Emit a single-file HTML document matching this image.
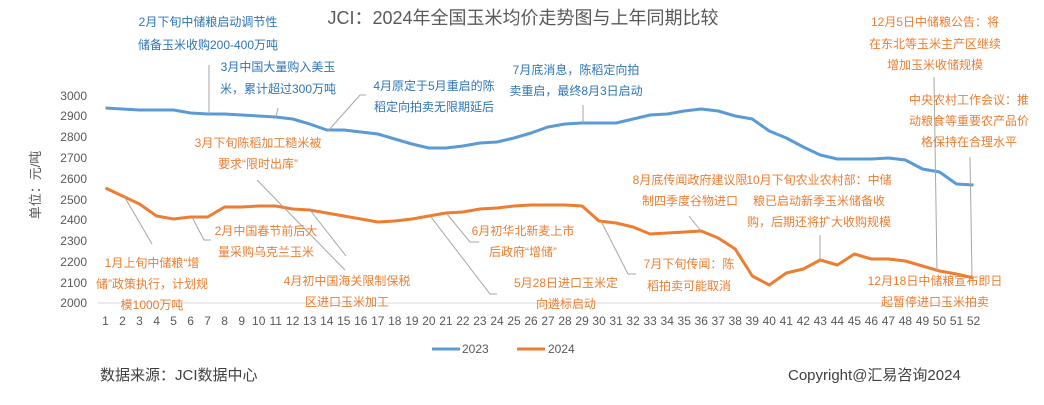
<!DOCTYPE html>
<html><head><meta charset="utf-8"><style>
body{margin:0;background:#fff}
svg text{font-family:"Liberation Sans","Noto Sans CJK SC",sans-serif}
.o{fill:#ED7D31;font-size:12px;text-anchor:middle}
.b{fill:#2E75B6;font-size:12px;text-anchor:middle}
.t{fill:#595959;font-size:12px}
.l{stroke:#A6A6A6;stroke-width:1;fill:none}
</style></head><body>
<svg width="1044" height="400" xmlns="http://www.w3.org/2000/svg">
<rect width="1044" height="400" fill="#fff"/>
<text x="523" y="24" style="font-size:18px;fill:#595959;text-anchor:middle">JCI：2024年全国玉米均价走势图与上年同期比较</text>
<text transform="translate(40,185) rotate(-90)" style="font-size:13px;fill:#595959;text-anchor:middle">单位：元/吨</text>
<g class="t" text-anchor="end">
<text x="87" y="100">3000</text><text x="87" y="120">2900</text><text x="87" y="141">2800</text><text x="87" y="162">2700</text><text x="87" y="183">2600</text><text x="87" y="204">2500</text><text x="87" y="224">2400</text><text x="87" y="245">2300</text><text x="87" y="266">2200</text><text x="87" y="287">2100</text><text x="87" y="307">2000</text>
</g>
<line x1="98" y1="303" x2="983" y2="303" stroke="#D9D9D9"/>
<g id="xt" class="t" text-anchor="middle"></g>
<polyline id="p23" fill="none" stroke="#5B9BD5" stroke-width="3" stroke-linejoin="round"/>
<polyline id="p24" fill="none" stroke="#ED7D31" stroke-width="3" stroke-linejoin="round"/>
<path class="l" d="M209 65V114 M278 108L276 117 M360 95L328 131 M360 95H366 M583 105V123 M934 77L937 271 M970 157L972 278 M257 180L345 270 M689 216L701 231 M820 235V260 M124 196L152 244 M192 217L204 240H211 M310 210L346 256 M447 214L470 242H479 M431 217L490 294H497 M601 221L628 274H636"/>
<g class="b">
<text x="208" y="26">2月下旬中储粮启动调节性</text><text x="208" y="49">储备玉米收购200-400万吨</text>
<text x="278" y="71">3月中国大量购入美玉</text><text x="278" y="93">米，累计超过300万吨</text>
<text x="434" y="90">4月原定于5月重启的陈</text><text x="434" y="111">稻定向拍卖无限期延后</text>
<text x="576" y="74">7月底消息，陈稻定向拍</text><text x="576" y="95">卖重启，最终8月3日启动</text>
</g>
<g class="o">
<text x="935" y="26">12月5日中储粮公告：将</text><text x="935" y="48">在东北等玉米主产区继续</text><text x="935" y="69">增加玉米收储规模</text>
<text x="969" y="104">中央农村工作会议：推</text><text x="969" y="125">动粮食等重要农产品价</text><text x="969" y="146">格保持在合理水平</text>
<text x="258" y="147">3月下旬陈稻加工糙米被</text><text x="258" y="168">要求“限时出库”</text>
<text x="690" y="184">8月底传闻政府建议限</text><text x="690" y="205">制四季度谷物进口</text>
<text x="819" y="184">10月下旬农业农村部：中储</text><text x="819" y="205">粮已启动新季玉米储备收</text><text x="819" y="226">购，后期还将扩大收购规模</text>
<text x="152" y="267">1月上旬中储粮“增</text><text x="152" y="288">储”政策执行，计划规</text><text x="152" y="309">模1000万吨</text>
<text x="266" y="235">2月中国春节前后大</text><text x="266" y="256">量采购乌克兰玉米</text>
<text x="347" y="285">4月初中国海关限制保税</text><text x="347" y="306">区进口玉米加工</text>
<text x="523" y="235">6月初华北新麦上市</text><text x="523" y="256">后政府“增储”</text>
<text x="566" y="287">5月28日进口玉米定</text><text x="566" y="308">向遴标启动</text>
<text x="689" y="268">7月下旬传闻：陈</text><text x="689" y="290">稻拍卖可能取消</text>
<text x="935" y="285">12月18日中储粮宣布即日</text><text x="935" y="306">起暂停进口玉米拍卖</text>
</g>
<line x1="432" y1="349" x2="460" y2="349" stroke="#5B9BD5" stroke-width="3"/>
<text x="462" y="353" class="t">2023</text>
<line x1="517" y1="349" x2="545" y2="349" stroke="#ED7D31" stroke-width="3"/>
<text x="548" y="353" class="t">2024</text>
<text x="100" y="380" style="font-size:15px;fill:#404040">数据来源：JCI数据中心</text>
<text x="788" y="380" style="font-size:15px;fill:#404040">Copyright@汇易咨询2024</text>
</svg>
<script>
var b=[108,109,110,110,110,113,114,114,115,116,117,119,124,130,130,132,134,139,144,148,148,146,143,142,138,133,127,124,123,123,123,119,115,114,111,109,111,116,119,131,138,147,155,159,159,159,158,160,169,172,184,185];
var o=[188,196,204,216,219,217,217,207,207,206,206,209,210,213,216,219,222,221,219,216,213,212,209,208,206,205,205,205,206,221,223,227,234,233,232,231,238,249,276,285,273,269,260,265,254,259,259,261,266,271,274,278];
function X(i){return 105.5+i*17.02}
function pts(a){return a.map(function(y,i){return X(i).toFixed(1)+","+y}).join(" ")}
document.getElementById("p23").setAttribute("points",pts(b));
document.getElementById("p24").setAttribute("points",pts(o));
var g=document.getElementById("xt"),s="";
for(var i=0;i<52;i++)s+='<text x="'+X(i).toFixed(1)+'" y="325">'+(i+1)+'</text>';
g.innerHTML=s;
</script>
</body></html>
